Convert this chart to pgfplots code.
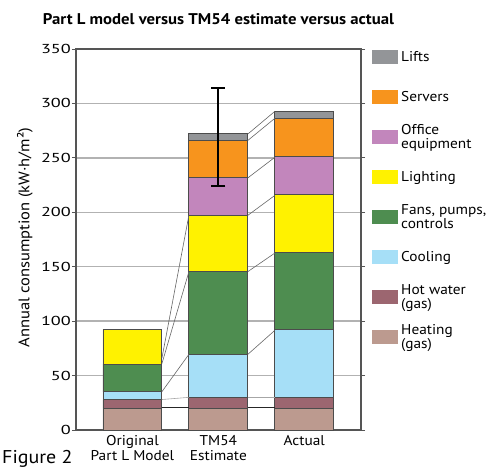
\documentclass[border=0pt]{standalone}
\usepackage{pgfplots}
\pgfplotsset{compat=1.18}
\usepackage{fontspec}
\setmainfont{PT Sans}[FakeStretch=1.08]
\newfontfamily\tickfont{PT Sans}[FakeStretch=1.4]
\definecolor{clifts}{HTML}{939598}
\definecolor{cservers}{HTML}{F7941D}
\definecolor{coffice}{HTML}{C286BC}
\definecolor{clighting}{HTML}{FFF200}
\definecolor{cfans}{HTML}{4E8D50}
\definecolor{ccooling}{HTML}{A6DFF7}
\definecolor{chotwater}{HTML}{9C6670}
\definecolor{cheating}{HTML}{BC9A8F}
\definecolor{axisgray}{HTML}{555555}
\begin{document}
\begin{tikzpicture}
\begin{axis}[name=ax,
  scale only axis, width=285pt, height=381pt,
  xmin=-0.657, xmax=2.66, ymin=0, ymax=350,
  ybar stacked, bar width=0.686,
  xtick={0,1,2},
  xticklabels={{Original\\Part L Model},{TM54\\Estimate},{Actual}},
  xticklabel style={align=center, font=\fontsize{14.2}{14.8}\selectfont, inner sep=1pt},
  x tick style={draw=none},
  ytick={0,50,...,350},
  ymajorgrids, grid style={color=black!30, line width=1.3pt},
  axis line style={draw=axisgray, line width=1.2pt},
  y tick style={axisgray, line width=0.9pt}, tick align=outside, major tick length=4pt,
  yticklabel style={font=\fontsize{13}{14}\tickfont, inner sep=1pt},
  /pgf/number format/assume math mode=true,
  ylabel={Annual consumption (kW·h/m²)},
  ylabel style={font=\fontsize{15.3}{16}\selectfont, at={(axis description cs:-0.179,0.505)}, anchor=center},
  legend style={at={(1,1)}, anchor=north west, xshift=10.5pt, yshift=12pt,
    draw=none, fill=none, inner sep=0pt, row sep=0pt,
    nodes={minimum height=40pt, inner ysep=0pt, inner xsep=3.5pt,
      font=\fontsize{14.2}{14.8}\selectfont, align=left}},
  legend cell align=left,
  reverse legend,
  legend image code/.code={\fill[#1, draw=none] (0pt,-7pt) rectangle (26pt,7pt);},
  every axis plot/.append style={draw=black!70, line width=0.9pt},
]
\addplot[fill=cheating]  coordinates {(0,20) (1,20) (2,20)};
\addlegendentry{Heating\\(gas)}
\addplot[fill=chotwater] coordinates {(0,8) (1,10) (2,10)};
\addlegendentry{Hot water\\(gas)}
\addplot[fill=ccooling]  coordinates {(0,7) (1,39.5) (2,62)};
\addlegendentry{Cooling}
\addplot[fill=cfans]     coordinates {(0,25.5) (1,76) (2,71)};
\addlegendentry{Fans, pumps,\\controls}
\addplot[fill=clighting] coordinates {(0,32) (1,52) (2,53)};
\addlegendentry{Lighting}
\addplot[fill=coffice]   coordinates {(0,0) (1,34.6) (2,35)};
\addlegendentry{Office\\equipment}
\addplot[fill=cservers]  coordinates {(0,0) (1,34) (2,35.5)};
\addlegendentry{Servers}
\addplot[fill=clifts]    coordinates {(0,0) (1,6) (2,6.5)};
\addlegendentry{Lifts}
\end{axis}
\begin{axis}[
  scale only axis, width=285pt, height=381pt,
  xmin=-0.657, xmax=2.66, ymin=0, ymax=350,
  hide axis, clip=false,
]
\addplot[black!60, line width=0.6pt, mark=none] coordinates {(0.343,66) (0.657,197.2)};
\addplot[black!60, line width=0.6pt, mark=none] coordinates {(0.343,61) (0.657,145.4)};
\addplot[black!60, line width=0.6pt, mark=none] coordinates {(0.343,35.2) (0.657,69.5)};
\addplot[black!35, line width=0.6pt, mark=none] coordinates {(0.343,28) (0.657,30)};
\addplot[black!85, line width=0.9pt, mark=none] coordinates {(0.343,20.5) (0.657,20.5)};
\addplot[black!60, line width=0.6pt, mark=none] coordinates {(1.343,271.9) (1.657,292.7)};
\addplot[black!60, line width=0.6pt, mark=none] coordinates {(1.343,266) (1.657,286.3)};
\addplot[black!60, line width=0.6pt, mark=none] coordinates {(1.343,231.6) (1.657,250.5)};
\addplot[black!60, line width=0.6pt, mark=none] coordinates {(1.343,197.2) (1.657,215.5)};
\addplot[black!60, line width=0.6pt, mark=none] coordinates {(1.343,145.5) (1.657,162.5)};
\addplot[black!60, line width=0.6pt, mark=none] coordinates {(1.343,69.5) (1.657,91.5)};
\addplot[black!35, line width=0.6pt, mark=none] coordinates {(1.343,30) (1.657,30)};
\addplot[black!85, line width=0.9pt, mark=none] coordinates {(1.343,20.5) (1.657,20.5)};
\addplot[black, no marks,
  error bars/.cd, y dir=both, y explicit,
  error bar style={line width=2pt, black},
  error mark options={rotate=90, mark size=7pt, line width=2pt, black}]
  coordinates {(1,272) += (0,42.5) -= (0,47.5)};
\end{axis}
\node[font=\bfseries\fontsize{15.5}{17}\selectfont, anchor=base] at ([yshift=24pt]ax.north) {Part L model versus TM54 estimate versus actual};
\node[font=\fontsize{18.5}{20}\selectfont, anchor=base west, inner sep=0pt] at ([shift={(-74pt,-34pt)}]ax.south west) {Figure 2};
\pgfresetboundingbox
\path ([shift={(-76pt,-38pt)}]ax.south west) rectangle ([shift={(142pt,49pt)}]ax.north east);
\end{tikzpicture}
\end{document}
